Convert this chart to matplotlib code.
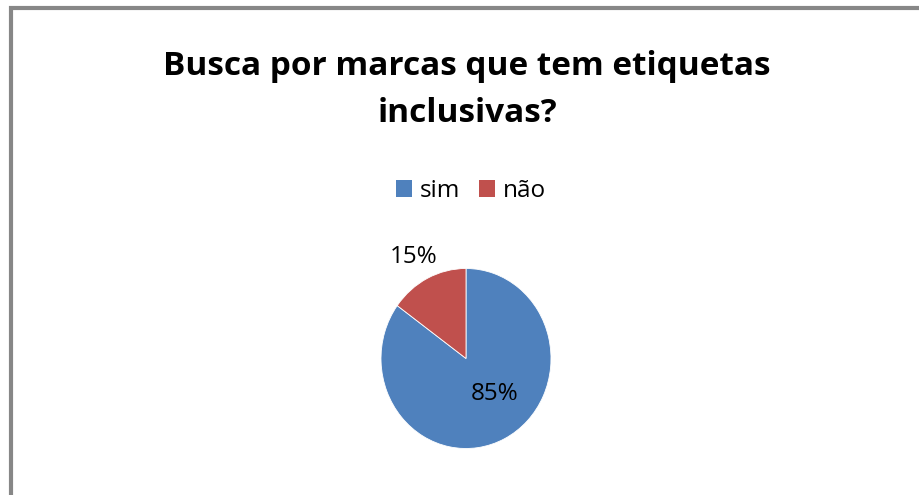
import matplotlib.pyplot as plt
from matplotlib.patches import Rectangle, Patch

# dados
categorias = ['sim', 'não']
valores = [85, 15]
cores = ['#4f81bd', '#c0504d']
titulo = 'Busca por marcas que tem etiquetas\ninclusivas?'

W, H = 919, 495
fig = plt.figure(figsize=(W / 100, H / 100), dpi=100)
fig.patch.set_facecolor('white')

# moldura cinza do gráfico (sai pela direita e por baixo)
fig.patches.append(Rectangle((11 / W, -0.1), 2, 1 - 7.5 / H + 0.1, transform=fig.transFigure,
                             fill=False, edgecolor='#878787', linewidth=3))

fig.text(467 / W, 1 - 90 / H, titulo, ha='center', va='center', fontsize=24,
         fontweight='bold', family='Open Sans', linespacing=1.55)

# pizza (levemente achatada na horizontal, como no original)
rx, ry, cx, cy = 85, 90, 466, 358.5
ax = fig.add_axes([(cx - rx) / W, (H - cy - ry) / H, 2 * rx / W, 2 * ry / H])
fatias, _ = ax.pie(valores, colors=cores, startangle=90, counterclock=False,
                   wedgeprops=dict(linewidth=0.6, edgecolor='white'))
ax.set_xlim(-1, 1)
ax.set_ylim(-1, 1)
ax.set_aspect('auto')

pos_rotulos = [(0.34, -0.40), (-0.62, 1.13)]
for v, (x, y) in zip(valores, pos_rotulos):
    ax.text(x, y, f'{v}%', ha='center', va='center', fontsize=17.5,
            family='Open Sans', color='black')

# legenda
alcas = [Patch(facecolor=c, edgecolor='none') for c in cores]
fig.legend(alcas, categorias, loc='center', bbox_to_anchor=(471 / W, 1 - 191 / H),
           ncol=2, frameon=False, prop={'family': 'Open Sans', 'size': 17.5},
           handlelength=0.65, handleheight=0.65, handletextpad=0.3, columnspacing=0.8)

fig.savefig('out.png', dpi=100)
